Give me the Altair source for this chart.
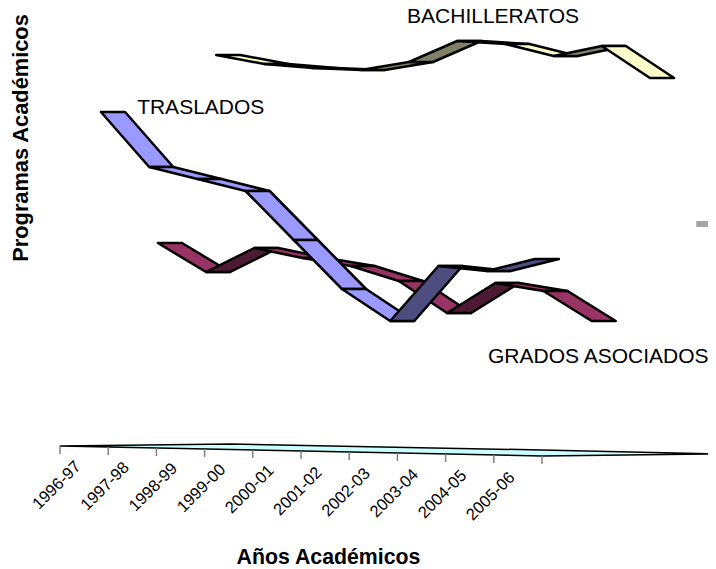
import altair as alt
import pandas as pd

CATEGORIAS = ["1996-97", "1997-98", "1998-99", "1999-00", "2000-01",
              "2001-02", "2002-03", "2003-04", "2004-05", "2005-06"]

# valores (unidades de la escala vertical, sin eje visible)
BACHILLERATOS = [506, 497, 493, 491, 499, 520, 517, 505, 515, 483]
GRADOS = [318, 289, 313, 303, 295, 280, 248, 278, 270, 240]
TRASLADOS = [449, 394, 382, 370, 321, 272, 240, 295, 290, 302]

# desplazamiento de cada serie en profundidad, en categorias
PROFUNDIDAD = {"TRASLADOS": 0.85, "GRADOS": 2.03, "BACHILLERATOS": 3.24}
ANCHO = 0.5

COLORES = {
    "BACHILLERATOS": ("#FFFFCC", "#808066"),
    "GRADOS": ("#993366", "#4D1A33"),
    "TRASLADOS": ("#9999FF", "#4D4D80"),
}

PISO_X = [0.0, 3.55, 10.0, 13.57]
PISO_Y = [115, 117, 111, 107]
PISO_Y2 = [115, 111.5, 105, 107]

MARCAS_Y = [115, 114, 113, 112, 111, 110, 109, 108, 107, 106, 105]
ETIQUETAS_Y = [97, 96, 95, 94, 93, 91, 90, 89, 88, 86]

xs = alt.Scale(domain=[-1.079, 13.444], nice=False, zero=False)
ys = alt.Scale(domain=[-8, 553], nice=False, zero=False)
X = lambda f: alt.X(f, type="quantitative", scale=xs, axis=None)
Y = lambda f: alt.Y(f, type="quantitative", scale=ys, axis=None)


def cinta(nombre, valores):
    claro, oscuro = COLORES[nombre]
    d = PROFUNDIDAD[nombre]
    filas = []
    for i in range(len(valores) - 1):
        tono = oscuro if valores[i + 1] > valores[i] else claro
        for j in (i, i + 1):
            filas.append({"seg": i, "x": j + d, "x2": j + d + ANCHO,
                          "y": valores[j], "tono": tono})
    return alt.Chart(pd.DataFrame(filas)).mark_area(
        stroke="black", strokeWidth=2.5, strokeJoin="round"
    ).encode(
        x=X("x"), x2="x2", y=Y("y"),
        detail="seg:N",
        fill=alt.Fill("tono:N", scale=None),
    )


piso = alt.Chart(pd.DataFrame({"x": PISO_X, "y": PISO_Y, "y2": PISO_Y2})).mark_area(
    fill="#CCFFFF", stroke="black", strokeWidth=1.5
).encode(x=X("x"), y=Y("y"), y2="y2")

marcas = alt.Chart(pd.DataFrame({
    "x": list(range(11)), "y": MARCAS_Y, "y2": [v - 8 for v in MARCAS_Y]
})).mark_rule(color="#808080", strokeWidth=1.5).encode(x=X("x"), y=Y("y"), y2="y2")

etiquetas = alt.Chart(pd.DataFrame({
    "x": [i + 0.38 for i in range(10)], "y": ETIQUETAS_Y, "t": CATEGORIAS
})).mark_text(font="Liberation Sans", fontSize=16.5, angle=315, align="right",
              baseline="middle", color="black").encode(x=X("x"), y=Y("y"), text="t:N")

nombres = alt.Chart(pd.DataFrame({
    "x": [1.6, 7.2, 8.88],
    "y": [453, 544, 204],
    "t": ["TRASLADOS", "BACHILLERATOS", "GRADOS ASOCIADOS"],
})).mark_text(font="Liberation Sans", fontSize=21, align="left", baseline="middle",
              color="black").encode(x=X("x"), y=Y("y"), text="t:N")

titulo_x = alt.Chart(pd.DataFrame({"x": [5.57], "y": [3], "t": ["Años Académicos"]})).mark_text(
    font="Liberation Sans", fontSize=21.3, fontWeight="bold", align="center",
    baseline="middle", color="black").encode(x=X("x"), y=Y("y"), text="t:N")

titulo_y = alt.Chart(pd.DataFrame({"x": [-0.81], "y": [423], "t": ["Programas Académicos"]})).mark_text(
    font="Liberation Sans", fontSize=21.8, fontWeight="bold", angle=270, align="center",
    baseline="middle", color="black").encode(x=X("x"), y=Y("y"), text="t:N")

resto = alt.Chart(pd.DataFrame({"x": [13.2], "x2": [13.444], "y": [337]})).mark_rule(
    color="#A6A6A6", strokeWidth=6
).encode(x=X("x"), x2="x2", y=Y("y"))

chart = alt.layer(
    piso, marcas, etiquetas,
    cinta("BACHILLERATOS", BACHILLERATOS),
    cinta("GRADOS", GRADOS),
    cinta("TRASLADOS", TRASLADOS),
    resto, nombres, titulo_x, titulo_y,
).properties(
    width=700, height=561, padding=0,
    autosize=alt.AutoSizeParams(type="none"),
).configure_view(stroke=None)

chart.save("out.html", embed_options={"renderer": "svg", "actions": False})
